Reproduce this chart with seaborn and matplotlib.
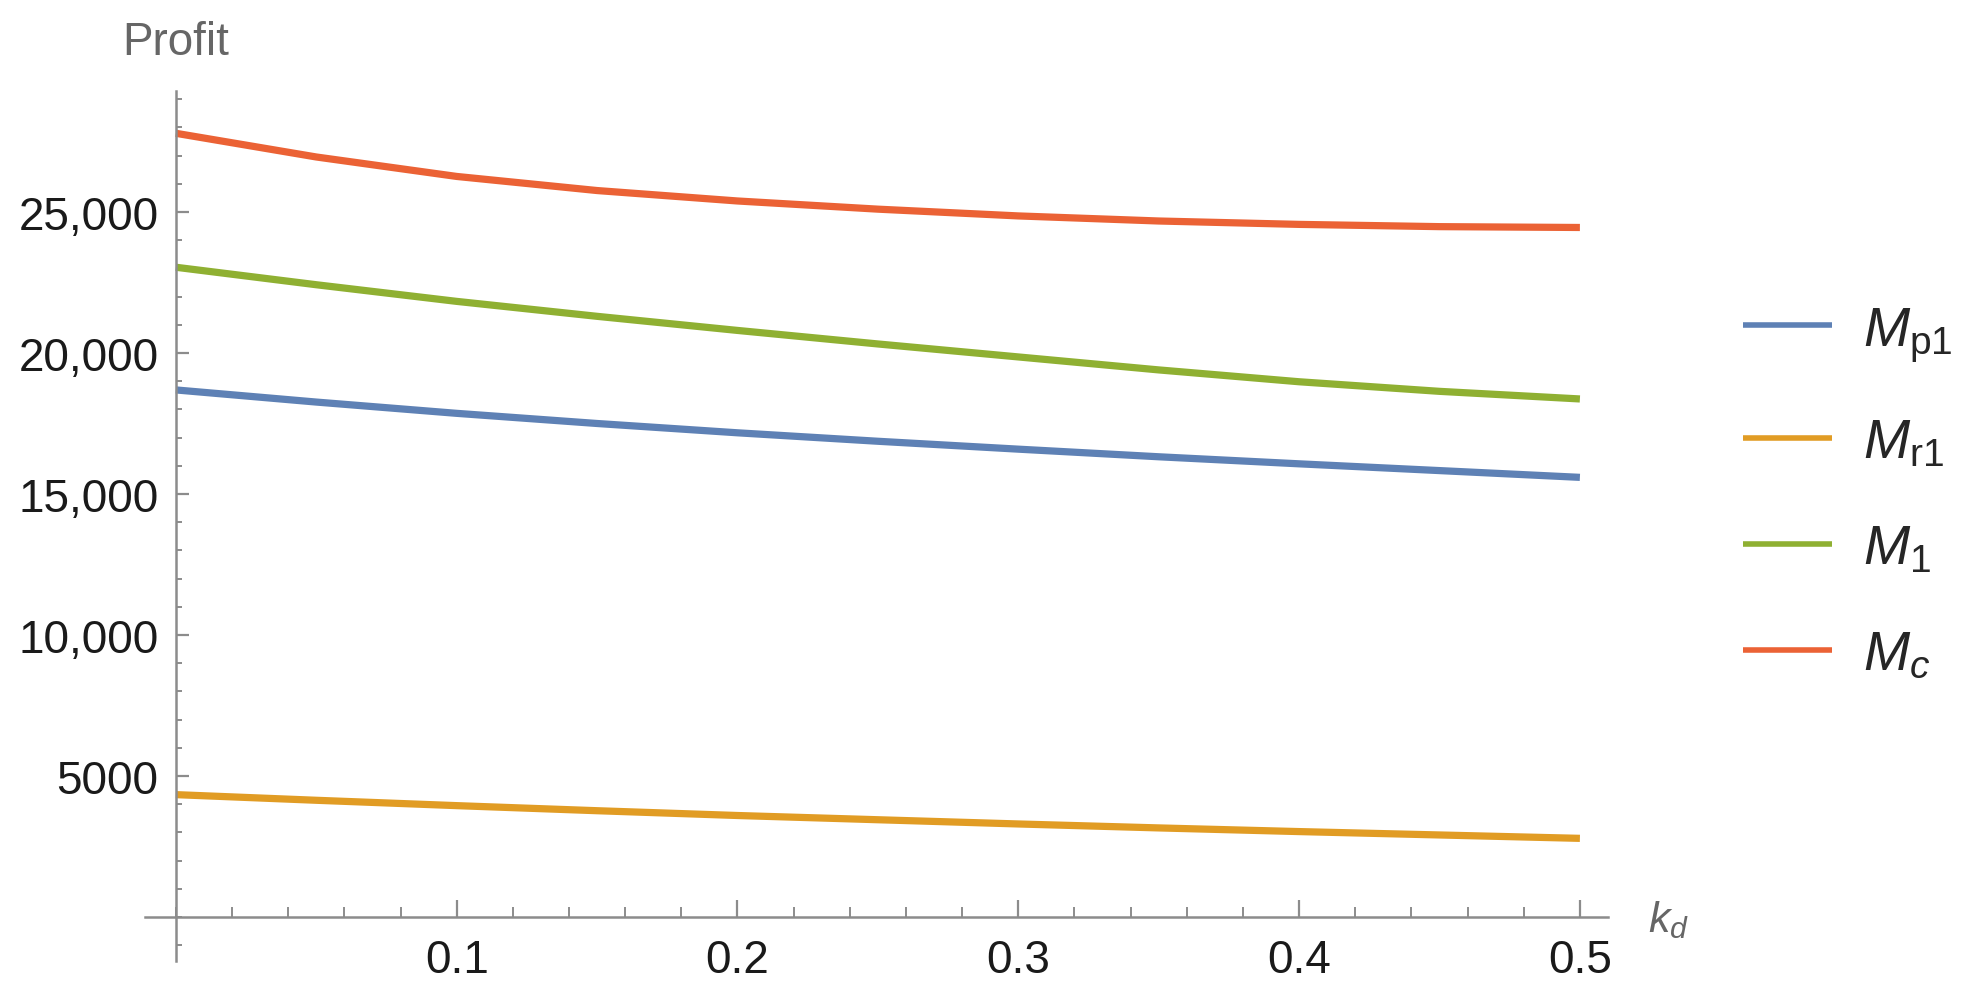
import pandas as pd
import matplotlib.pyplot as plt
import numpy as np
import seaborn as sns
from matplotlib.ticker import MultipleLocator

# values at k_d = 0, 0.05, ..., 0.5
kd = [0.0, 0.05, 0.1, 0.15, 0.2, 0.25, 0.3, 0.35, 0.4, 0.45, 0.5]
m_p1 = [18690, 18260, 17860, 17500, 17170, 16870, 16590, 16320, 16070, 15830, 15590]
m_r1 = [4340, 4140, 3950, 3770, 3600, 3450, 3300, 3160, 3030, 2910, 2790]
m_1 = [23040, 22420, 21830, 21300, 20800, 20320, 19860, 19400, 18980, 18640, 18370]
m_c = [27790, 26950, 26260, 25760, 25390, 25100, 24860, 24680, 24560, 24480, 24450]

series_names = [r'$M_{\mathrm{p1}}$', r'$M_{\mathrm{r1}}$', r'$M_{1}$', r'$M_{c}$']
colors = ['#5E81B5', '#E19C24', '#8FB032', '#EB6235']

x_ticks = [0.1, 0.2, 0.3, 0.4, 0.5]
x_tick_labels = ['0.1', '0.2', '0.3', '0.4', '0.5']
y_ticks = [5000, 10000, 15000, 20000, 25000]
y_tick_labels = ['5000', '10,000', '15,000', '20,000', '25,000']

sns.set_style('white')
plt.rcParams['font.family'] = ['Liberation Sans', 'DejaVu Sans']
plt.rcParams['mathtext.fontset'] = 'custom'
plt.rcParams['mathtext.rm'] = 'Liberation Sans'
plt.rcParams['mathtext.it'] = 'Liberation Sans:italic'

df = pd.concat([
    pd.DataFrame({'kd': kd, 'profit': vals, 'series': name})
    for name, vals in zip(series_names, [m_p1, m_r1, m_1, m_c])
])

fig = plt.figure(figsize=(19.81, 9.87), dpi=100)
ax = fig.add_axes([0.0732, 0.0253, 0.8117 - 0.0732, 0.9068 - 0.0253])

sns.lineplot(data=df, x='kd', y='profit', hue='series', hue_order=series_names,
             palette=colors, linewidth=5.2, ax=ax, solid_capstyle='butt')

ax.set_xlim(-0.011, 0.51)
ax.set_ylim(-1560, 29290)

axis_col = '#8c8c8c'
for s in ['top', 'right']:
    ax.spines[s].set_visible(False)
ax.spines['left'].set_position(('data', 0))
ax.spines['bottom'].set_position(('data', 0))
for s in ['left', 'bottom']:
    ax.spines[s].set_color(axis_col)
    ax.spines[s].set_linewidth(1.8)

ax.set_xticks(x_ticks, x_tick_labels)
ax.set_yticks(y_ticks, y_tick_labels)
ax.xaxis.set_minor_locator(MultipleLocator(0.02))
ax.yaxis.set_minor_locator(MultipleLocator(1000))
ax.tick_params(which='both', bottom=True, left=True)
ax.tick_params(axis='x', which='major', direction='in', length=12, width=1.6,
               color=axis_col, labelsize=33, pad=15, labelcolor='#1a1a1a')
ax.tick_params(axis='x', which='minor', direction='in', length=7.5, width=1.4, color=axis_col)
ax.tick_params(axis='y', which='major', direction='in', length=9, width=1.6,
               color=axis_col, labelsize=33, pad=12.5, labelcolor='#1a1a1a')
ax.tick_params(axis='y', which='minor', direction='in', length=4.5, width=1.4, color=axis_col)

ax.set_xlabel('')
ax.set_ylabel('')

fig.text(0.0616, 0.9443, 'Profit', fontsize=33, color='#666666', va='baseline', ha='left')
fig.text(0.832, 0.068, r'$k_{d}$', fontsize=31, color='#666666', va='center', ha='left')

handles, labels = ax.get_legend_handles_labels()
ax.get_legend().remove()
leg = fig.legend(handles, labels, loc='center left', bbox_to_anchor=(0.880, 0.4995),
                 frameon=False, fontsize=40, handlelength=1.6, handletextpad=0.55,
                 labelspacing=0.97, borderpad=0, borderaxespad=0)
for h in leg.get_lines():
    h.set_linewidth(4)

fig.savefig('out.png', dpi=100)
